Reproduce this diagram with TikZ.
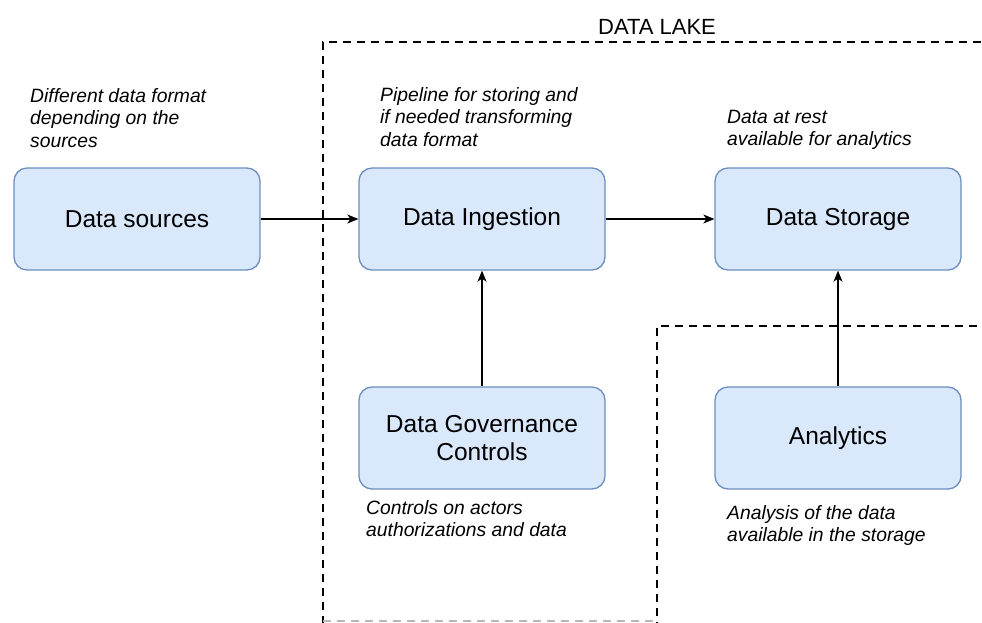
\documentclass[tikz,border=0pt]{standalone}
\usepackage{fontspec}
\setmainfont{Liberation Sans}
\usetikzlibrary{arrows.meta}
\definecolor{boxfill}{HTML}{DAE8FC}
\definecolor{boxline}{HTML}{6C8EBF}
\tikzset{
  stagebox/.style={rounded corners=13pt, fill=boxfill, draw=boxline, line width=1.3pt,
    minimum width=246pt, minimum height=102pt, align=center,
    font=\fontsize{24.5}{28}\selectfont},
  flow/.style={line width=1.3pt, -{Stealth[length=11pt,width=9pt,inset=3pt]}},
  note/.style={anchor=north west, inner sep=0pt, align=left,
    font=\fontsize{19.3}{22.5}\selectfont\itshape},
  lakeline/.style={line width=2.8pt, dash pattern=on 8pt off 6pt},
}
\begin{document}
\begin{tikzpicture}[x=1pt, y=-1pt]
\useasboundingbox (0,0) rectangle (982,622);

% data lake boundary
\coordinate (lakeTR) at (995,42);
\coordinate (lakeTL) at (323,42);
\coordinate (lakeBL) at (323,630);
\coordinate (notchB) at (657,630);
\coordinate (notchT) at (657,326);
\coordinate (notchR) at (995,326);
\draw[lakeline] (lakeTR) -- (lakeTL) -- (lakeBL);
\draw[lakeline] (notchB) -- (notchT) -- (notchR);
\draw[lakeline, gray!55, line width=2.2pt] (323,621) -- (657,621);
\node[font=\fontsize{22}{26}\selectfont] (lake) at (657,27) {DATA LAKE};

% stages
\node[stagebox] (src) at (137,219) {Data sources};
\node[stagebox] (ing) at (482,219) {Data Ingestion};
\node[stagebox] (sto) at (838,219) {Data Storage};
\node[stagebox] (gov) at (482,438) {Data Governance\\Controls};
\node[stagebox] (ana) at (838,438) {Analytics};

% flows
\draw[flow] (src) -- (ing);
\draw[flow] (ing) -- (sto);
\draw[flow] (gov) -- (ing);
\draw[flow] (ana) -- (sto);

% notes
\node[note] (n1) at (30,88) {Different data format\\depending on the\\sources};
\node[note] (n2) at (380,87) {Pipeline for storing and\\if needed transforming\\data format};
\node[note] (n3) at (727,110) {Data at rest\\available for analytics};
\node[note] (n4) at (366,500) {Controls on actors\\authorizations and data};
\node[note] (n5) at (727,505) {Analysis of the data\\available in the storage};
\end{tikzpicture}
\end{document}
